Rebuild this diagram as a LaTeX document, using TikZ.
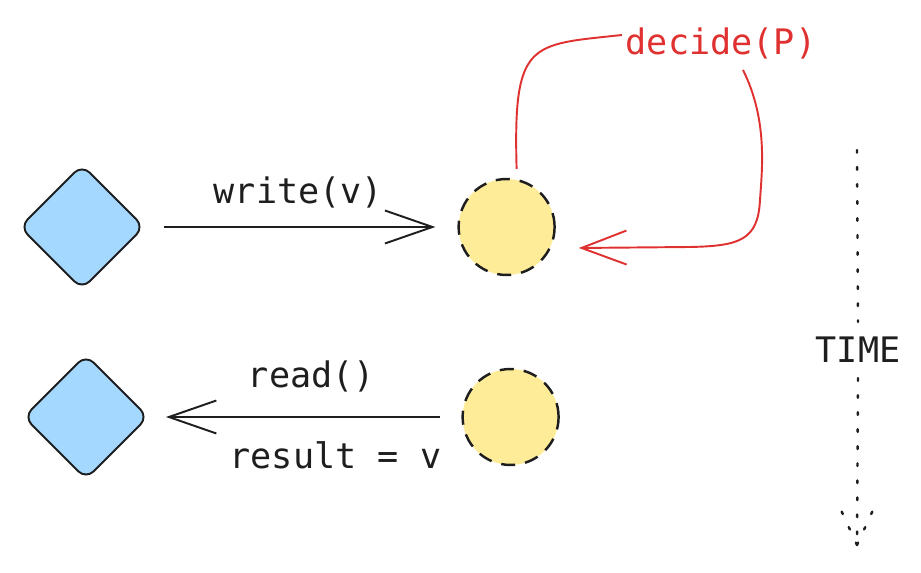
\documentclass[tikz,border=0pt]{standalone}
\usepackage{fontspec}
\setmonofont{DejaVu Sans Mono}
\usepackage{xcolor}
\usetikzlibrary{positioning,shapes.geometric,arrows.meta}
\definecolor{diafill}{HTML}{A5D8FF}
\definecolor{circfill}{HTML}{FFEC99}
\definecolor{decred}{HTML}{E03131}
\definecolor{ink}{HTML}{1E1E1E}

\begin{document}
\begin{tikzpicture}[x=0.02cm, y=-0.02cm,
        font=\ttfamily\fontsize{20}{24}\selectfont, text=ink,
        client/.style={diamond, draw=ink, fill=diafill, line width=1.1pt, rounded corners=0.22cm, inner sep=0pt, minimum width=2.5cm, minimum height=2.5cm},
        replica/.style={circle, draw=ink, fill=circfill, line width=1.4pt, dash pattern=on 8pt off 5.7pt, inner sep=0pt, minimum size=1.92cm},
        msg/.style={draw=ink, line width=1.1pt, -{Straight Barb[length=0.95cm, width=0.66cm, line width=1.1pt]}},
        loopback/.style={draw=decred, line width=1.1pt},
        timeline/.style={draw=ink, line width=1.4pt, line cap=round, dash pattern=on 1.5pt off 8.2pt}]
    \useasboundingbox (0,0) rectangle (921,573); % keep the page size
    \node [client] (d1) at (82,227) {}; % writing client
    \node [client] (d2) at (86,417) {}; % reading client
    \node [replica, right=6.24cm of d1] (c1) {}; % replica that is written
    \node [replica, right=6.24cm of d2] (c2) {}; % replica that is read
    \node [text=decred, inner sep=2pt] (dec) at (721,43) {decide(P)}; % red label on the loop
    \node [inner sep=0.3cm] (time) at (858,350) {TIME}; % label on the time axis
    \coordinate (ttop) at (857,150); % top of the time axis
    \coordinate (ttip) at (857,545); % tip of the time axis
    % messages between clients and replicas
    \draw [msg, shorten <=0.37cm, shorten >=0.44cm] (d1) -- (c1) node [midway, xshift=-0.06cm, yshift=0.7cm] {write(v)};
    \draw [msg, shorten <=0.42cm, shorten >=0.33cm] (c2) -- (d2)
        node [midway, xshift=0.12cm, yshift=0.82cm] {read()}
        node [midway, xshift=0.6cm, yshift=-0.76cm] {result = v};
    % red loop from the replica back to itself
    \draw [loopback] ([xshift=0.2cm, yshift=0.18cm]c1.north) .. controls (513,40) and (530,45) .. ([yshift=0.16cm]dec.west);
    \draw [loopback, -{Straight Barb[length=0.9cm, width=0.68cm, line width=1.1pt]}] ([xshift=0.44cm, yshift=-0.54cm]dec.center)
        .. controls (768,120) and (762,170) .. (760,200)
        .. controls (758,240) and (740,246) .. (690,247)
        -- ([xshift=0.46cm, yshift=-0.42cm]c1.east);
    % dotted time axis
    \draw [timeline] (ttop) -- (time.north);
    \draw [timeline] (time.south) -- (ttip);
    \draw [timeline] (ttip) -- ++(-17,-37);
    \draw [timeline] (ttip) -- ++(17,-37);
\end{tikzpicture}
\end{document}
